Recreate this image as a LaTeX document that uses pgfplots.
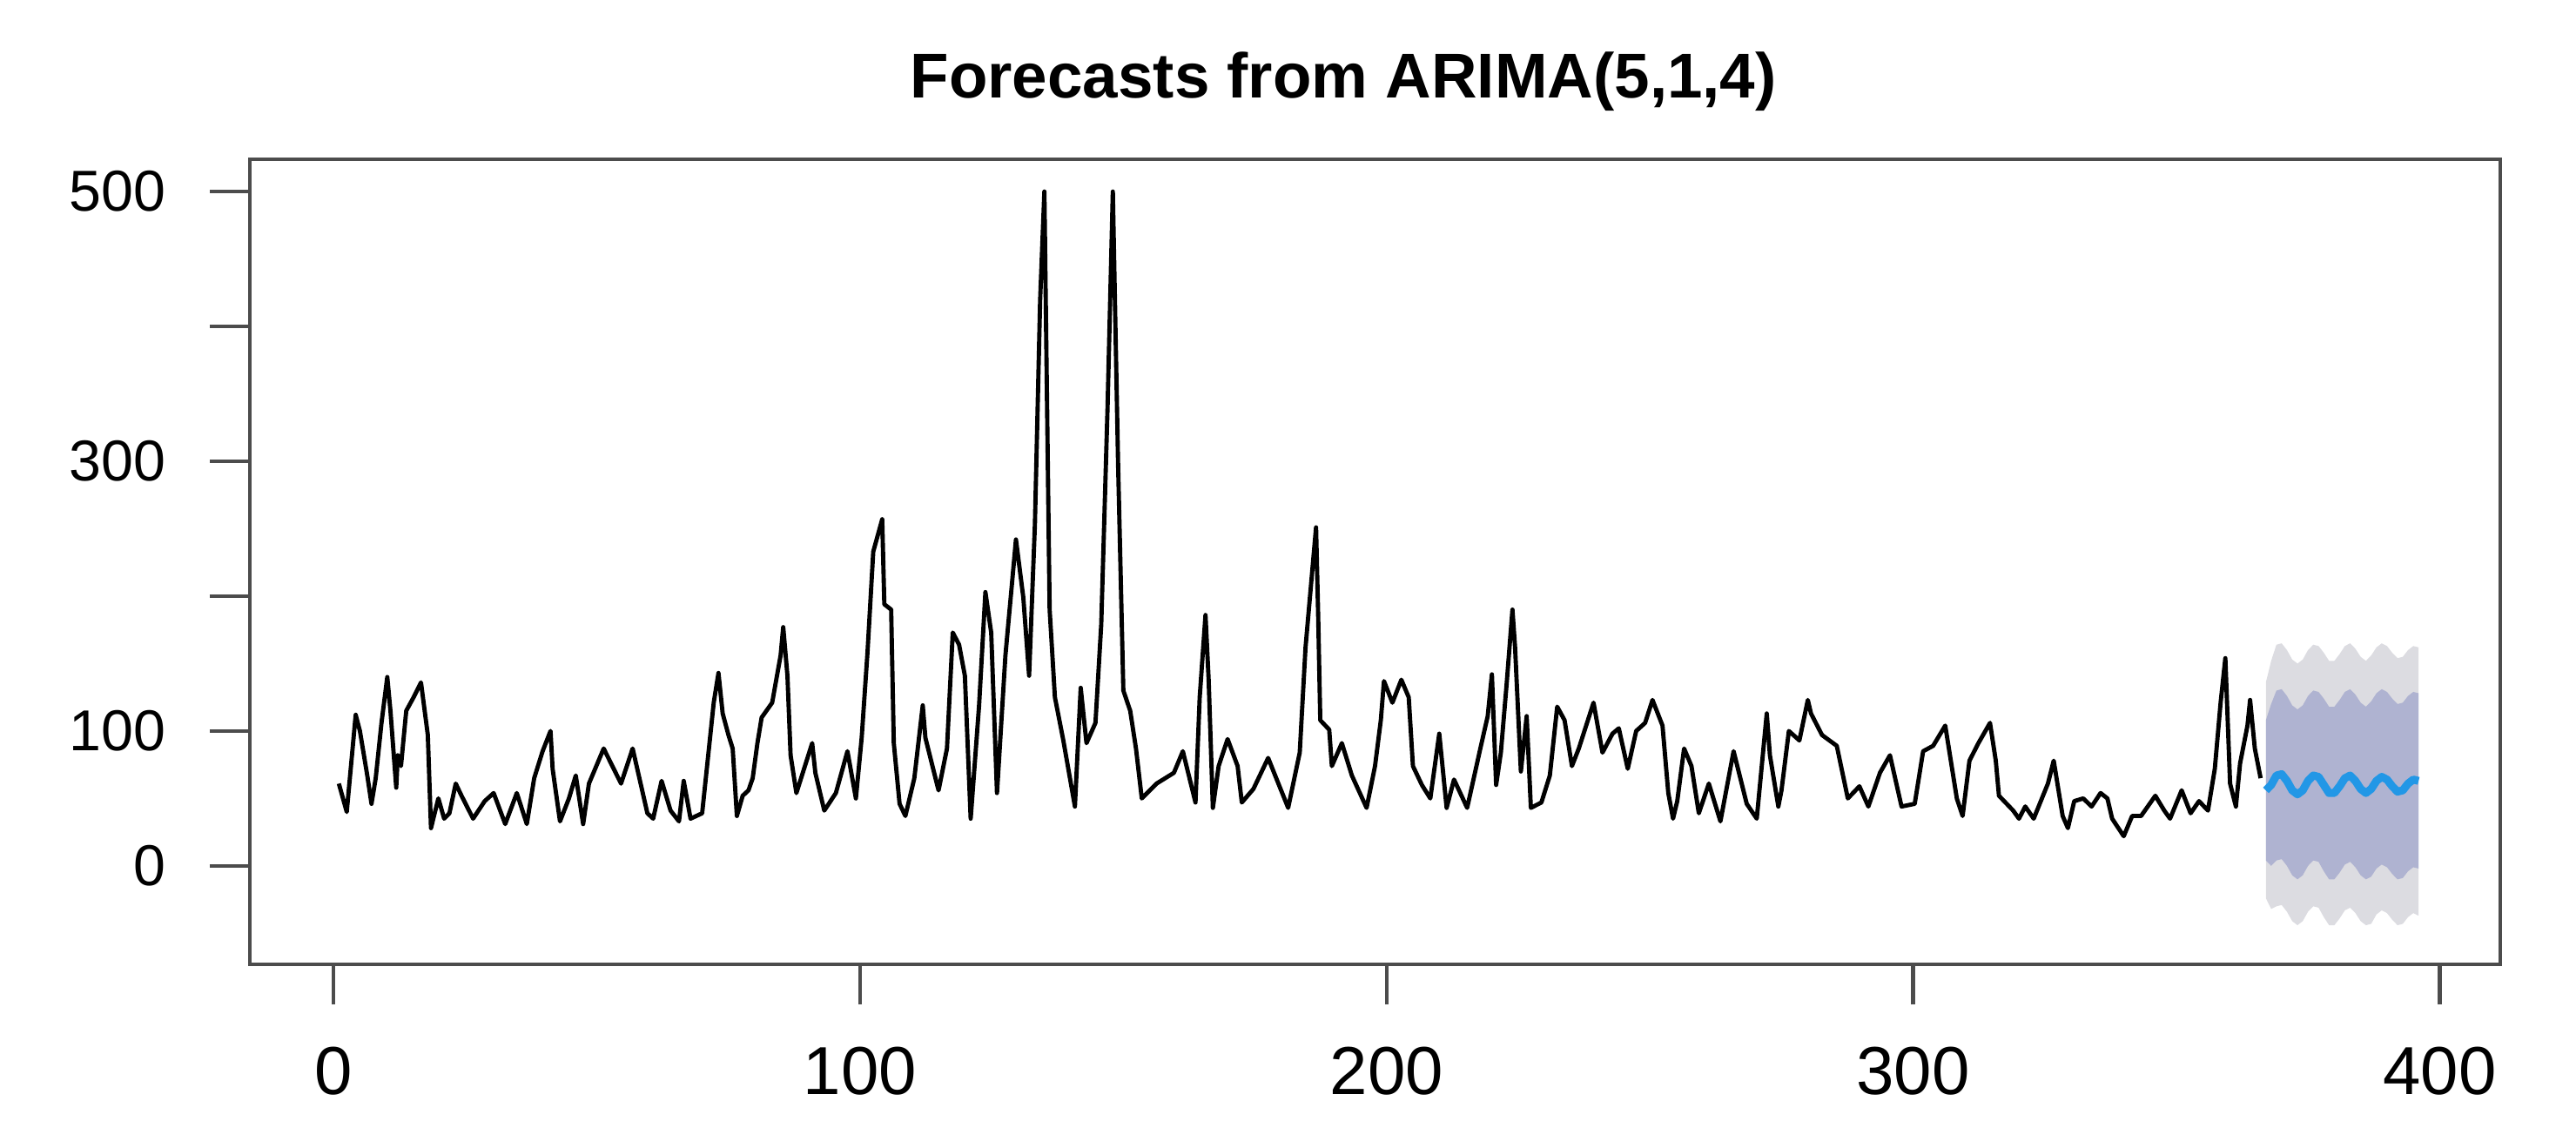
\documentclass[border=0pt]{standalone}
\usepackage{pgfplots}
\pgfplotsset{compat=1.18}
\usepackage{fontspec}
\setmainfont{Liberation Sans}
\definecolor{band95}{HTML}{DCDCE1}
\definecolor{band80}{HTML}{AFB3D1}
\definecolor{fcblue}{HTML}{2297E6}
\begin{document}
\begin{tikzpicture}
\begin{axis}[
  scale only axis, width=13.977cm, height=5.002cm,
  xmin=-15.9, xmax=411.5, ymin=-73, ymax=524,
  axis line style={black!70, line width=0.7pt},
  xtick={0,100,...,400}, ytick={0,100,...,500},
  yticklabels={0,100,,300,,500},
  tick align=outside, tick pos=left,
  major tick length=0.25cm,
  tick style={black!70, line width=0.7pt},
  /pgf/number format/assume math mode=true,
  xticklabel style={font=\fontsize{12}{14}\selectfont, yshift=-0.14cm},
  yticklabel style={font=\fontsize{10.2}{12}\selectfont, xshift=-0.15cm},
  title={Forecasts from ARIMA(5,1,4)},
  title style={font=\fontsize{11.2}{14}\selectfont\bfseries, at={(0.486,1)}, anchor=base, yshift=0.17cm},
]
% 95% band
\addplot[fill=band95, draw=none] coordinates {
(367,136)(368,152)(369,164)(370,165)(371,160)(372,153)(373,150)(374,153)(375,160)(376,164)
(377,163)(378,158)(379,152)(380,152)(381,157)(382,163)(383,165)(384,161)(385,155)(386,152)
(387,156)(388,162)(389,165)(390,163)(391,158)(392,154)(393,155)(394,160)(395,163)(396,162)
(396,-37)(395,-35)(394,-38)(393,-43)(392,-44)(391,-40)(390,-35)(389,-33)(388,-36)(387,-43)
(386,-44)(385,-41)(384,-35)(383,-31)(382,-33)(381,-39)(380,-44)(379,-44)(378,-38)(377,-31)
(376,-30)(375,-34)(374,-41)(373,-44)(372,-41)(371,-34)(370,-29)(369,-30)(368,-32)(367,-24)
};
% 80% band
\addplot[fill=band80, draw=none] coordinates {
(367,108)(368,120)(369,130)(370,131)(371,126)(372,119)(373,116)(374,119)(375,126)(376,130)
(377,129)(378,124)(379,118)(380,118)(381,123)(382,129)(383,131)(384,127)(385,121)(386,118)
(387,122)(388,128)(389,131)(390,129)(391,124)(392,120)(393,121)(394,126)(395,129)(396,128)
(396,-2)(395,-1)(394,-4)(393,-9)(392,-10)(391,-6)(390,-1)(389,1)(388,-2)(387,-8)
(386,-10)(385,-7)(384,-1)(383,3)(382,1)(381,-5)(380,-10)(379,-10)(378,-4)(377,3)
(376,4)(375,0)(374,-7)(373,-10)(372,-7)(371,0)(370,5)(369,4)(368,0)(367,4)
};
% observed series
\addplot[black, line width=0.75pt, line join=round] coordinates {
(1,61)(2.5,40)(4.2,112)(5,100)(6.4,67)(7.2,46)(8,65)(9.1,106)(10.2,140)(10.8,115)
(11.9,58)(12.2,82)(12.8,74)(13.8,115)(15.2,125)(16.6,136)(17.9,97)(18.5,28)(19.9,50)(21,35)
(22,39)(23.2,61)(24.3,52)(26.5,35)(28.7,48)(30.4,54)(32.6,31)(34.8,54)(36.7,31)(38.1,65)
(39.7,85)(41.2,100)(41.6,72)(43,33)(44.7,50)(46,67)(47.4,31)(48.5,61)(51.3,87)(53.2,72)
(54.6,61)(56.8,87)(59.6,39)(60.7,35)(62.3,63)(64,41)(65.6,33)(66.5,63)(67.8,35)(70,39)
(71.1,80)(72.2,121)(73.1,143)(73.9,113)(75,97)(75.8,87)(76.6,37)(77.7,52)(78.8,56)(79.6,65)
(80.5,91)(81.3,110)(83.3,121)(84.9,156)(85.4,177)(86.2,141)(86.8,82)(87.9,54)(90.9,91)(91.5,69)
(93.2,41)(95.4,54)(97.6,85)(99.2,50)(100.3,95)(101.4,158)(102.5,233)(104.2,257)(104.6,194)(105.9,190)
(106.4,91)(107.5,46)(108.6,37)(110.3,65)(111.9,119)(112.4,95)(114.9,56)(116.5,87)(117.6,173)(118.8,164)
(119.9,141)(121,35)(122.6,119)(123.8,203)(124.9,173)(126,54)(127.6,156)(129,216)(129.6,242)(131,199)
(132.1,141)(133.2,253)(134.2,420)(135,500)(136,190)(137,125)(138.6,93)(140.8,44)(141.9,132)(143,91)
(144.7,106)(145.8,179)(147,340)(148,500)(149,298)(150,130)(151.3,115)(152.4,87)(153.5,50)(156.3,61)
(159.6,69)(161.3,85)(163.7,47)(164.5,125)(165.6,186)(166.2,138)(167,43)(168.1,74)(169.8,94)(171.7,74)
(172.5,47)(174.7,57)(177.5,80)(181.3,43)(183.5,84)(184.6,162)(186.6,251)(187,186)(187.4,108)(189.1,101)
(189.6,74)(191.5,91)(193.4,67)(196.2,43)(197.8,74)(198.9,108)(199.5,137)(201.1,121)(202.8,138)(204.2,125)
(205,74)(206.7,60)(208.3,50)(210,98)(211.4,43)(212.8,64)(215.3,43)(217.8,87)(219.2,111)(220,142)
(220.8,60)(221.7,84)(222.8,135)(223.9,190)(224.4,162)(225.5,70)(226.6,111)(227.4,43)(229.4,47)(231,67)
(232.4,118)(233.8,108)(235.2,74)(236.5,87)(239.3,121)(241,84)(242.9,98)(244.1,102)(245.8,72)(247.4,100)
(249.1,106)(250.5,123)(252.4,104)(253.5,54)(254.4,35)(255.2,48)(256.5,87)(257.9,74)(259.3,39)(261.2,61)
(263.4,33)(265.9,85)(268.4,46)(270.3,35)(272.2,113)(272.8,82)(274.4,44)(275,56)(276.4,100)(278.4,93)
(280,123)(280.6,113)(282.7,97)(285.5,89)(287.6,50)(289.8,59)(291.5,44)(293.7,69)(295.6,82)(297.8,44)
(300.3,46)(301.9,85)(303.8,89)(306.1,104)(308.3,50)(309.4,37)(310.7,78)(312.4,91)(314.6,106)(315.7,78)
(316.3,52)(319,41)(320.1,35)(321.3,44)(322.9,35)(325.6,61)(326.7,78)(328.4,37)(329.4,28)(330.6,48)
(332.3,50)(333.9,44)(335.6,54)(336.9,50)(337.8,35)(340,22)(341.6,37)(343.3,37)(346,52)(347.7,41)
(348.8,35)(351,56)(352.7,39)(354.3,48)(356,41)(357.3,72)(358.4,121)(359.3,154)(360.2,61)(361.3,44)
(362.1,76)(363.5,104)(364,123)(364.9,87)(366,65)
};
% point forecasts
\addplot[fcblue, line width=1.4pt, line join=round] coordinates {
(367,56)(368,60)(369,67)(370,68)(371,63)(372,56)(373,53)(374,56)(375,63)(376,67)
(377,66)(378,60)(379,54)(380,54)(381,59)(382,65)(383,67)(384,63)(385,57)(386,54)
(387,57)(388,63)(389,66)(390,64)(391,59)(392,55)(393,56)(394,61)(395,64)(396,63)
};
\end{axis}
\pgfresetboundingbox
\path ([xshift=-1.552cm,yshift=-0.969cm]current axis.south west) rectangle ([xshift=0.471cm,yshift=0.989cm]current axis.north east);
\end{tikzpicture}
\end{document}
